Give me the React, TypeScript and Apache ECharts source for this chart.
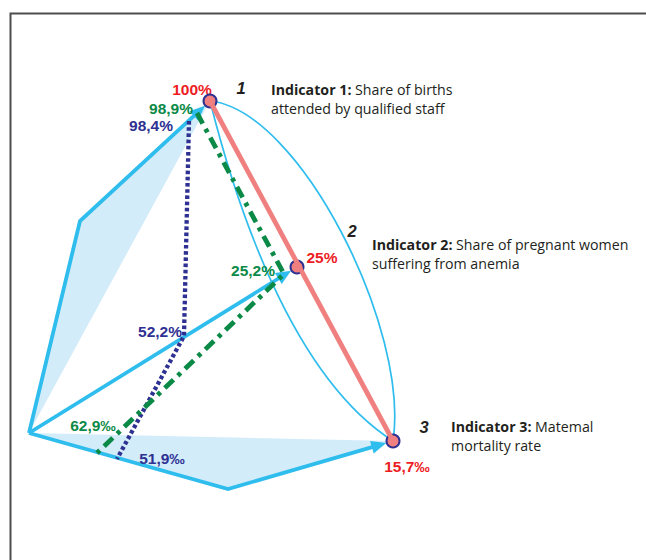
import React, { useEffect, useRef } from "react";
import * as echarts from "echarts";

const W = 646;
const H = 560;

// ---- Texts ----
const indicatorNumbers = ["1", "2", "3"];
const indicatorTitles = ["Indicator 1:", "Indicator 2:", "Indicator 3:"];
const indicatorLine1 = ["Share of births", "Share of pregnant women", "Matemal"];
const indicatorLine2 = ["attended by qualified staff", "suffering from anemia", "mortality rate"];

// ---- Values shown at the indicator axes ----
const targetValues = ["100%", "25%", "15,7‰"];
const greenValues = ["98,9%", "25,2%", "62,9‰"];
const navyValues = ["98,4%", "52,2%", "51,9‰"];

// ---- Schematic geometry (chart units of the hidden 646 x 560 axes) ----
const originPt = [29, 433];
const axisBends: (number[] | null)[] = [[80, 221], null, [228, 489]];
const vertexPts = [[210, 101], [297, 267], [393, 441]];
const greenPts = [[197, 113], [284, 274], [97, 453]];
const navyPts = [[189, 121], [184, 336], [117, 459]];
const lensCurves = [
  [[210, 101], [300, 110], [410, 330], [393, 441]],
  [[210, 101], [235, 200], [290, 375], [393, 441]],
];

// ---- Label anchor positions ----
const targetLabelPos = [[192, 89], [322, 257], [407, 466]];
const greenLabelPos = [[171, 108], [253, 270], [93, 425]];
const navyLabelPos = [[151, 125], [160, 331], [162, 458]];
const numberPos = [[241, 88], [352, 231], [424, 427]];
const indicatorTextPos = [[271, 89], [372, 244], [451, 426]];

const CYAN = "#2fbdee";
const FILL = "#d3ecfa";
const RED_LINE = "#f08080";
const RED_TEXT = "#ed1c24";
const NAVY = "#2e3192";
const GREEN = "#0b8a47";
const DARK = "#231f20";

export default function App() {
  const ref = useRef<HTMLDivElement>(null);

  useEffect(() => {
    if (!ref.current) return;
    const chart = echarts.init(ref.current, null, { renderer: "svg" });

    const single = [[0, 0]];

    const option: any = {
      animation: false,
      grid: { left: 0, right: 0, top: 0, bottom: 0 },
      xAxis: { type: "value", min: 0, max: W, show: false },
      yAxis: { type: "value", min: 0, max: H, inverse: true, show: false },
      series: [
        // frame
        {
          type: "custom",
          name: "frame",
          data: single,
          silent: true,
          renderItem: (_p: any, api: any) => ({
            type: "polyline",
            shape: { points: [api.coord([10.5, H]), api.coord([10.5, 13.5]), api.coord([W, 13.5])] },
            style: { stroke: "#4d4d4d", lineWidth: 2, fill: "none" },
          }),
        },
        // light fills
        {
          type: "custom",
          name: "fills",
          data: single,
          silent: true,
          renderItem: (_p: any, api: any) => ({
            type: "group",
            children: [0, 2].map((i) => ({
              type: "polygon",
              shape: {
                points: [api.coord(originPt), api.coord(axisBends[i] as number[]), api.coord(vertexPts[i])],
              },
              style: { fill: FILL, stroke: "none" },
            })),
          }),
        },
        // lens curves
        {
          type: "custom",
          name: "lens",
          data: single,
          silent: true,
          renderItem: (_p: any, api: any) => ({
            type: "group",
            children: lensCurves.map((c) => {
              const a = api.coord(c[0]);
              const b = api.coord(c[1]);
              const d = api.coord(c[2]);
              const e = api.coord(c[3]);
              return {
                type: "bezierCurve",
                shape: { x1: a[0], y1: a[1], cpx1: b[0], cpy1: b[1], cpx2: d[0], cpy2: d[1], x2: e[0], y2: e[1] },
                style: { stroke: CYAN, lineWidth: 1.7, fill: "none" },
              };
            }),
          }),
        },
        // indicator axes (arrows)
        {
          type: "custom",
          name: "axes",
          data: single,
          silent: true,
          renderItem: (_p: any, api: any) => {
            const children: any[] = [];
            for (let i = 0; i < 3; i++) {
              const pts = [originPt];
              if (axisBends[i]) pts.push(axisBends[i] as number[]);
              pts.push(vertexPts[i]);
              const px = pts.map((p) => api.coord(p));
              const end = px[px.length - 1];
              const prev = px[px.length - 2];
              const dx = end[0] - prev[0];
              const dy = end[1] - prev[1];
              const len = Math.sqrt(dx * dx + dy * dy);
              const ux = dx / len;
              const uy = dy / len;
              const r = 7;
              const tip = [end[0] - ux * r, end[1] - uy * r];
              const L = 15;
              const Wd = 6.5;
              const base = [tip[0] - ux * L, tip[1] - uy * L];
              const lineEnd = [tip[0] - ux * (L - 3), tip[1] - uy * (L - 3)];
              const linePts = px.slice(0, px.length - 1).concat([lineEnd]);
              children.push({
                type: "polyline",
                shape: { points: linePts },
                style: { stroke: CYAN, lineWidth: 3.8, fill: "none", lineJoin: "miter" },
              });
              children.push({
                type: "polygon",
                shape: {
                  points: [
                    tip,
                    [base[0] - uy * Wd, base[1] + ux * Wd],
                    [base[0] + uy * Wd, base[1] - ux * Wd],
                  ],
                },
                style: { fill: CYAN, stroke: "none" },
              });
            }
            return { type: "group", children };
          },
        },
        // target line
        {
          type: "line",
          name: "target",
          data: [vertexPts[0], vertexPts[2]],
          symbol: "none",
          silent: true,
          lineStyle: { color: RED_LINE, width: 4.8 },
        },
        // navy
        {
          type: "line",
          name: "navy",
          data: navyPts,
          symbol: "none",
          silent: true,
          lineStyle: { color: NAVY, width: 4.3, type: [3.6, 2.6], cap: "butt" },
        },
        // green
        {
          type: "line",
          name: "green",
          data: greenPts,
          symbol: "none",
          silent: true,
          lineStyle: { color: GREEN, width: 4.8, type: [12, 6, 4, 6], cap: "butt" },
        },
        // vertex circles
        {
          type: "scatter",
          name: "vertices",
          data: vertexPts,
          symbol: "circle",
          symbolSize: 13,
          silent: true,
          itemStyle: { color: RED_LINE, borderColor: NAVY, borderWidth: 2, opacity: 1 },
        },
        // labels
        {
          type: "custom",
          name: "labels",
          data: single,
          silent: true,
          renderItem: (_p: any, api: any) => {
            const children: any[] = [];
            const valText = (pos: number[], text: string, color: string) => {
              const c = api.coord(pos);
              return {
                type: "text",
                x: c[0],
                y: c[1],
                style: {
                  text,
                  fill: color,
                  fontSize: 15.5,
                  fontWeight: "bold",
                  fontFamily: "Liberation Sans, Arial, sans-serif",
                  align: "center",
                  verticalAlign: "middle",
                },
              };
            };
            for (let i = 0; i < 3; i++) {
              children.push(valText(targetLabelPos[i], targetValues[i], RED_TEXT));
              children.push(valText(greenLabelPos[i], greenValues[i], GREEN));
              children.push(valText(navyLabelPos[i], navyValues[i], NAVY));
              const n = api.coord(numberPos[i]);
              children.push({
                type: "text",
                x: n[0],
                y: n[1],
                style: {
                  text: indicatorNumbers[i],
                  fill: DARK,
                  fontSize: 16.5,
                  fontWeight: "bold",
                  fontStyle: "italic",
                  fontFamily: "Liberation Sans, Arial, sans-serif",
                  align: "center",
                  verticalAlign: "middle",
                },
              });
              const t = api.coord(indicatorTextPos[i]);
              children.push({
                type: "text",
                x: t[0],
                y: t[1],
                style: {
                  text: "{b|" + indicatorTitles[i] + "} " + indicatorLine1[i],
                  fill: DARK,
                  fontSize: 14.2,
                  fontFamily: "Open Sans, sans-serif",
                  align: "left",
                  verticalAlign: "middle",
                  rich: {
                    b: { fontWeight: "bold", fontSize: 14.2, fontFamily: "Open Sans, sans-serif", fill: DARK },
                  },
                },
              });
              children.push({
                type: "text",
                x: t[0],
                y: t[1] + 19,
                style: {
                  text: indicatorLine2[i],
                  fill: DARK,
                  fontSize: 14.2,
                  fontFamily: "Open Sans, sans-serif",
                  align: "left",
                  verticalAlign: "middle",
                },
              });
            }
            return { type: "group", children };
          },
        },
      ],
    };

    chart.setOption(option);
    return () => chart.dispose();
  }, []);

  return (
    <div
      ref={ref}
      style={{ position: "absolute", left: 0, top: 0, width: W, height: H, background: "#fff" }}
    />
  );
}
